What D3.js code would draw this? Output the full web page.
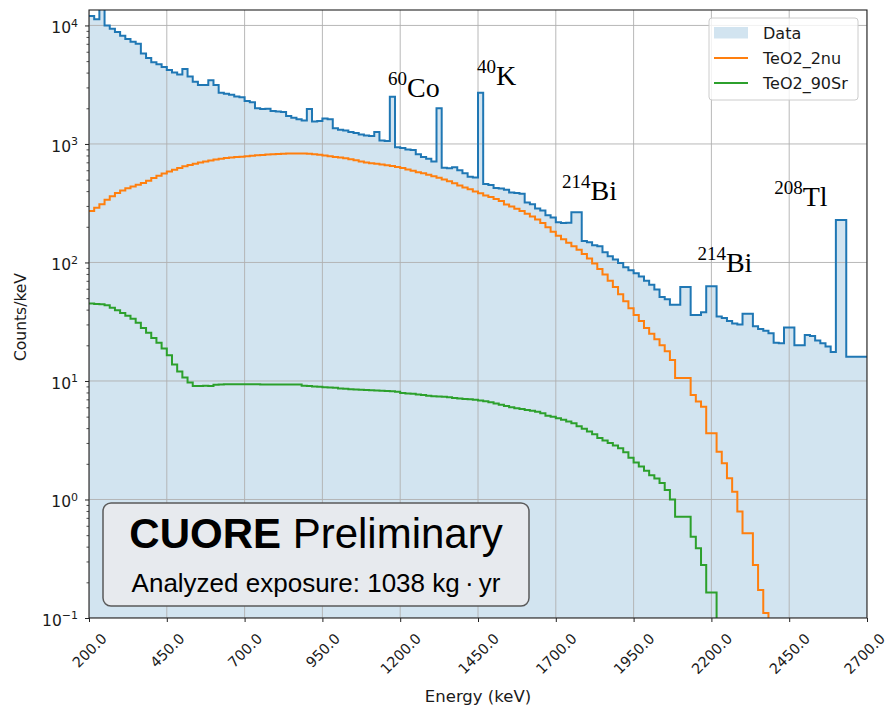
<!DOCTYPE html>
<html>
<head>
<meta charset="utf-8">
<script src="https://cdn.jsdelivr.net/npm/d3@7"></script>
<style>
  body { margin: 0; background: #fff; }
  svg { display: block; }
  text { font-family: "DejaVu Sans", sans-serif; fill: #1a1a1a; }
</style>
</head>
<body>
<svg id="chart"></svg>
<script>
const width = 889;
const height = 708;

// energy range and binning (150 bins)
const energyMin = 200;
const energyMax = 2700;
const binWidth = (energyMax - energyMin) / 150;

const yMin = 0.1;
const yMax = 13500;

// counts/keV per bin
const dataCounts = [
  12000, 11300, 16000, 10000, 9400, 8800, 8200, 7700, 7300, 7000,
  5800, 5300, 4900, 4700, 4450, 4200, 4000, 3850, 4300, 3700,
  3350, 3150, 3150, 3450, 3150, 2700, 2650, 2600, 2520, 2480,
  2300, 2250, 2000, 1970, 1980, 1900, 1880, 1860, 1720, 1660,
  1620, 1580, 1970, 1550, 1560, 1640, 1620, 1360, 1320, 1300,
  1260, 1240, 1200, 1180, 1170, 1260, 1070, 1060, 2500, 940,
  925, 900, 890, 820, 775, 750, 710, 2000, 630, 625,
  635, 600, 565, 530, 520, 2700, 460, 450, 425, 420,
  410, 390, 385, 380, 320, 310, 285, 275, 250, 240,
  218, 215, 216, 265, 265, 152, 148, 140, 137, 122,
  113, 106, 99, 91, 86, 81, 76, 70, 65, 59,
  51, 49, 44, 44, 62, 62, 36, 36, 38, 63,
  63, 35, 34, 32, 30.5, 30, 37, 37, 29, 27.5,
  26.5, 25.3, 21, 20.8, 28.3, 28.3, 20, 20, 24.4, 24,
  22, 20.8, 19.5, 17.6, 228, 228, 16, 16, 16, 16
];

const twoNuCounts = [
  272, 290, 310, 338, 362, 385, 405, 422, 438, 452,
  468, 490, 515, 540, 562, 585, 607, 628, 647, 665,
  682, 697, 712, 726, 740, 750, 760, 767, 775, 781,
  788, 795, 802, 808, 814, 820, 824, 827, 830, 831,
  830, 829, 826, 820, 810, 798, 787, 778, 768, 756,
  742, 728, 712, 697, 688, 680, 670, 662, 652, 640,
  628, 610, 594, 578, 565, 550, 535, 518, 502, 485,
  465, 446, 430, 415, 398, 383, 368, 357, 343, 330,
  308, 296, 284, 272, 258, 244, 230, 215, 198, 182,
  168, 157, 147, 137, 128, 118, 108, 98, 88, 79,
  70, 62, 54, 47, 41, 36, 32, 28, 25, 22.5,
  20, 17.8, 15, 10.6, 10.6, 10.6, 7.6, 6.7, 6.06, 3.62,
  3.62, 2.53, 2.02, 1.51, 1.16, 0.79, 0.52, 0.52, 0.28, 0.172,
  0.11, 0.05
];

const srCounts = [
  45, 44.7, 44.3, 43.5, 41.5, 39.5, 37.5, 35.5, 33.5, 31,
  28, 25.5, 23, 21, 18.8, 16.5, 13.8, 12, 10.7, 9.7,
  9.06, 9.06, 9.1, 9.06, 9.3, 9.35, 9.37, 9.37, 9.37, 9.37,
  9.37, 9.37, 9.37, 9.36, 9.36, 9.35, 9.35, 9.35, 9.34, 9.34,
  9.33, 9.1, 9.06, 9.0, 8.95, 8.85, 8.8, 8.75, 8.65, 8.6,
  8.5, 8.48, 8.45, 8.4, 8.35, 8.3, 8.28, 8.25, 8.2, 8.1,
  7.9, 7.85, 7.8, 7.7, 7.6, 7.5, 7.45, 7.4, 7.35, 7.3,
  7.2, 7.12, 7.05, 7.0, 6.95, 6.85, 6.75, 6.6, 6.45, 6.3,
  6.15, 6.0, 5.88, 5.8, 5.7, 5.6, 5.5, 5.35, 5.1, 5.0,
  4.85, 4.7, 4.55, 4.4, 4.15, 3.95, 3.75, 3.55, 3.3, 3.15,
  3.0, 2.85, 2.7, 2.5, 2.25, 2.05, 1.9, 1.75, 1.6, 1.5,
  1.38, 1.2, 1.0, 0.716, 0.716, 0.716, 0.486, 0.388, 0.28, 0.164,
  0.164, 0.05
];

const xTicks = [200, 450, 700, 950, 1200, 1450, 1700, 1950, 2200, 2450, 2700];
const yTicks = [0.1, 1, 10, 100, 1000, 10000];
const yTickExponents = ['\u22121', '0', '1', '2', '3', '4'];

// peak annotations: isotope mass, element, position in data coords (keV, counts)
const peakIsotopes = ['60', '40', '214', '214', '208'];
const peakElements = ['Co', 'K', 'Bi', 'Bi', 'Tl'];
const peakEnergies = [1161, 1447, 1720, 2155, 2402];
const peakHeights = [2490, 3150, 337, 83, 300];

const seriesNames = ['Data', 'TeO2_2nu', 'TeO2_90Sr'];
const colors = ['#1f77b4', '#ff7f0e', '#2ca02c'];

const margin = { left: 89, right: 867, top: 10, bottom: 618 };

const svg = d3.select('#chart')
  .attr('width', width)
  .attr('height', height);

const x = d3.scaleLinear()
  .domain([energyMin, energyMax])
  .range([margin.left, margin.right]);

const y = d3.scaleLog()
  .domain([yMin, yMax])
  .range([margin.bottom, margin.top]);

svg.append('defs').append('clipPath')
  .attr('id', 'plot-clip')
  .append('rect')
  .attr('x', margin.left)
  .attr('y', margin.top)
  .attr('width', margin.right - margin.left)
  .attr('height', margin.bottom - margin.top);

// bin edges + closing point for step curves
const toSteps = (counts) => {
  const pts = counts.map((c, i) => [energyMin + i * binWidth, c]);
  pts.push([energyMin + counts.length * binWidth, counts[counts.length - 1]]);
  return pts;
};

const stepLine = d3.line()
  .x((d) => x(d[0]))
  .y((d) => y(d[1]))
  .curve(d3.curveStepAfter);

const stepArea = d3.area()
  .x((d) => x(d[0]))
  .y0(margin.bottom)
  .y1((d) => y(d[1]))
  .curve(d3.curveStepAfter);

const plot = svg.append('g').attr('clip-path', 'url(#plot-clip)');

plot.append('path')
  .datum(toSteps(dataCounts))
  .attr('d', stepArea)
  .attr('fill', colors[0])
  .attr('fill-opacity', 0.2);

// grid
plot.append('g')
  .selectAll('line')
  .data(xTicks)
  .enter()
  .append('line')
  .attr('x1', (d) => x(d))
  .attr('x2', (d) => x(d))
  .attr('y1', margin.top)
  .attr('y2', margin.bottom)
  .attr('stroke', '#b0b0b0')
  .attr('stroke-width', 0.9);

plot.append('g')
  .selectAll('line')
  .data(yTicks)
  .enter()
  .append('line')
  .attr('x1', margin.left)
  .attr('x2', margin.right)
  .attr('y1', (d) => y(d))
  .attr('y2', (d) => y(d))
  .attr('stroke', '#b0b0b0')
  .attr('stroke-width', 0.9);

[dataCounts, twoNuCounts, srCounts].forEach((counts, i) => {
  plot.append('path')
    .datum(toSteps(counts))
    .attr('d', stepLine)
    .attr('fill', 'none')
    .attr('stroke', colors[i])
    .attr('stroke-width', 2);
});

// peak labels
peakIsotopes.forEach((iso, i) => {
  const t = svg.append('text')
    .attr('x', x(peakEnergies[i]))
    .attr('y', y(peakHeights[i]))
    .style('font-family', '"Liberation Serif", "Times New Roman", serif')
    .style('fill', '#000');
  t.append('tspan')
    .attr('font-size', 19)
    .attr('dy', -12)
    .text(iso);
  t.append('tspan')
    .attr('font-size', 28)
    .attr('dy', 12)
    .text(peakElements[i]);
});

// axes
const xAxis = svg.append('g')
  .attr('transform', `translate(0,${margin.bottom})`)
  .call(d3.axisBottom(x)
    .tickValues(xTicks)
    .tickFormat(d3.format('.1f'))
    .tickSize(4)
    .tickSizeOuter(0));
xAxis.select('.domain').remove();
xAxis.selectAll('line').attr('stroke', '#222');
xAxis.selectAll('text')
  .attr('font-size', 14.4)
  .attr('font-family', '"DejaVu Sans", sans-serif')
  .attr('fill', '#1a1a1a')
  .attr('text-anchor', 'middle')
  .attr('y', 0)
  .attr('dy', '0.35em')
  .attr('transform', function (d) {
    const len = this.getComputedTextLength();
    const half = (len + 11) / (2 * Math.SQRT2);
    // keep the last label inside the canvas
    const shift = d === energyMax ? -3 : 0;
    return `translate(${shift},${14 + half}) rotate(-45)`;
  });

const minorTicks = [];
yTicks.slice(0, -1).forEach((d) => {
  [2, 3, 4, 5, 6, 7, 8, 9].forEach((m) => {
    if (d * m <= yMax) minorTicks.push(d * m);
  });
});

const yAxis = svg.append('g')
  .attr('transform', `translate(${margin.left},0)`)
  .call(d3.axisLeft(y).tickValues(yTicks).tickFormat('').tickSize(4).tickSizeOuter(0));
yAxis.select('.domain').remove();
yAxis.selectAll('line').attr('stroke', '#222');

const yMinor = svg.append('g')
  .attr('transform', `translate(${margin.left},0)`)
  .call(d3.axisLeft(y).tickValues(minorTicks).tickFormat('').tickSize(2.5).tickSizeOuter(0));
yMinor.select('.domain').remove();
yMinor.selectAll('line').attr('stroke', '#222').attr('stroke-width', 0.8);

yTicks.forEach((d, i) => {
  const t = svg.append('text')
    .attr('x', margin.left - 11)
    .attr('y', y(d) + 8)
    .attr('text-anchor', 'end')
    .attr('font-size', 15.5);
  t.append('tspan').text('10');
  t.append('tspan')
    .attr('font-size', 11)
    .attr('dy', -6.6)
    .text(yTickExponents[i]);
});

// spines
svg.append('rect')
  .attr('x', margin.left)
  .attr('y', margin.top)
  .attr('width', margin.right - margin.left)
  .attr('height', margin.bottom - margin.top)
  .attr('fill', 'none')
  .attr('stroke', '#222')
  .attr('stroke-width', 1.1);

// axis labels
svg.append('text')
  .attr('transform', `translate(26,${(margin.top + margin.bottom) / 2 + 3}) rotate(-90)`)
  .attr('text-anchor', 'middle')
  .attr('font-size', 15.5)
  .text('Counts/keV');

svg.append('text')
  .attr('x', (margin.left + margin.right) / 2)
  .attr('y', 702)
  .attr('text-anchor', 'middle')
  .attr('font-size', 16.5)
  .text('Energy (keV)');

// legend
const legend = svg.append('g').attr('transform', 'translate(709,18)');
legend.append('rect')
  .attr('width', 149)
  .attr('height', 82)
  .attr('rx', 3)
  .attr('fill', '#fff')
  .attr('fill-opacity', 0.8)
  .attr('stroke', '#cccccc');

seriesNames.forEach((name, i) => {
  const row = legend.append('g').attr('transform', `translate(0,${15 + i * 25})`);
  if (i === 0) {
    row.append('rect')
      .attr('x', 5)
      .attr('y', -6)
      .attr('width', 34)
      .attr('height', 11.5)
      .attr('fill', colors[0])
      .attr('fill-opacity', 0.2);
  } else {
    row.append('line')
      .attr('x1', 5)
      .attr('x2', 39)
      .attr('stroke', colors[i])
      .attr('stroke-width', 2);
  }
  row.append('text')
    .attr('x', 54)
    .attr('y', 6)
    .attr('font-size', 16)
    .text(name);
});

// CUORE box
const badge = svg.append('g');
badge.append('rect')
  .attr('x', 103)
  .attr('y', 503)
  .attr('width', 426)
  .attr('height', 103)
  .attr('rx', 8)
  .attr('fill', '#e7eaee')
  .attr('stroke', '#5a5a5a')
  .attr('stroke-width', 1.5);

const title = badge.append('text')
  .attr('x', 316)
  .attr('y', 548)
  .attr('text-anchor', 'middle')
  .style('font-family', '"Liberation Sans", Arial, sans-serif')
  .style('fill', '#000')
  .attr('font-size', 42);
title.append('tspan').attr('font-weight', 'bold').text('CUORE');
title.append('tspan').text(' Preliminary');

badge.append('text')
  .attr('x', 316)
  .attr('y', 592)
  .attr('text-anchor', 'middle')
  .style('font-family', '"Liberation Sans", Arial, sans-serif')
  .style('fill', '#000')
  .attr('font-size', 26)
  .text('Analyzed exposure: 1038 kg\u2009\u00b7\u2009yr');
</script>
</body>
</html>
